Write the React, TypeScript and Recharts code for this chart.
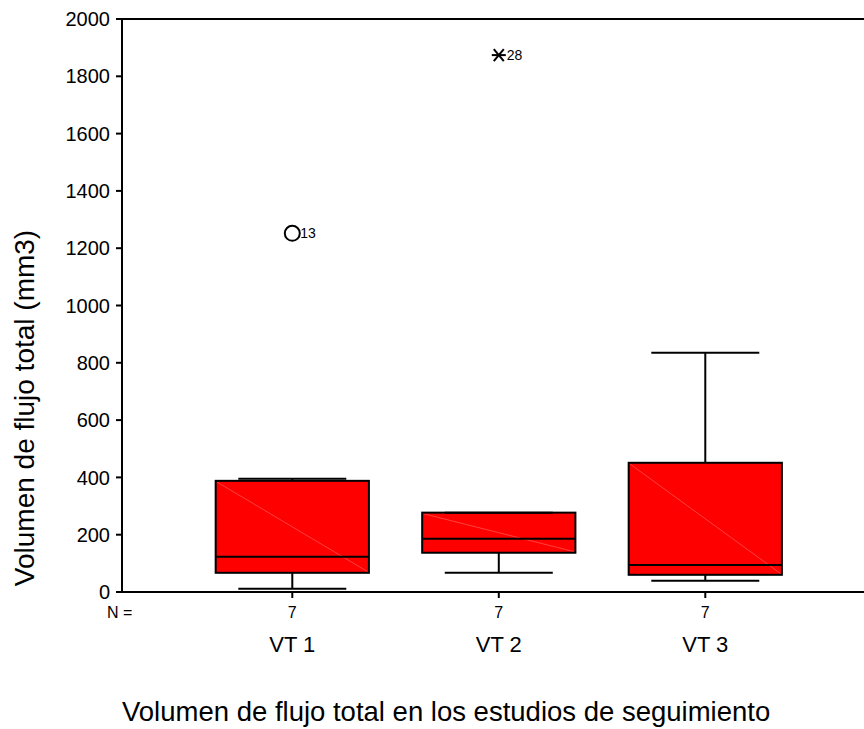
import React from 'react';
import { ComposedChart, XAxis, YAxis, ReferenceArea, ReferenceLine, Scatter, Label } from 'recharts';

// ---- data ----
const categories = ['VT 1', 'VT 2', 'VT 3'];
const nValues = [7, 7, 7];
const minValues = [11, 67, 39];
const q1Values = [67, 137, 60];
const medianValues = [123, 186, 94];
const q3Values = [388, 277, 451];
const maxValues = [395, 277, 835];
const outlierCategory = [1, 2];
const outlierValues = [1252, 1874];
const outlierIds = ['13', '28'];
const outlierKinds = ['circle', 'star'];
const yTicks = [0, 200, 400, 600, 800, 1000, 1200, 1400, 1600, 1800, 2000];
const xTitle = 'Volumen de flujo total en los estudios de seguimiento';
const yTitle = 'Volumen de flujo total (mm3)';

// ---- layout / style ----
const FONT = '"Liberation Sans", Arial, Helvetica, sans-serif';
const BOX_HALF = 0.371;
const CAP_HALF = 0.2615;
const X_DOMAIN: [number, number] = [0.1753, 3.7686];
const RED = '#ff0000';

const positions = categories.map((_, i) => i + 1);
const outlierData = outlierValues.map((v, k) => ({
  x: outlierCategory[k],
  y: v,
  id: outlierIds[k],
  kind: outlierKinds[k],
}));

const makeBoxShape = (i: number) => (props: any) => {
  const x = Math.min(props.x, props.x + props.width);
  const y = Math.min(props.y, props.y + props.height);
  const w = Math.abs(props.width);
  const h = Math.abs(props.height);
  const medY = y + ((q3Values[i] - medianValues[i]) / (q3Values[i] - q1Values[i])) * h;
  return (
    <g>
      <rect x={x} y={y} width={w} height={h} fill={RED} stroke="none" />
      <line x1={x + 1} y1={y + 1} x2={x + w - 1} y2={y + h - 1} stroke="#ff6a6a" strokeWidth={0.6} />
      <rect x={x} y={y} width={w} height={h} fill="none" stroke="#000" strokeWidth={2} />
      <line x1={x} x2={x + w} y1={medY} y2={medY} stroke="#000" strokeWidth={2} />
    </g>
  );
};

const OutlierShape = (props: any) => {
  const { cx, cy, payload } = props;
  if (cx == null || cy == null) return <g />;
  return (
    <g>
      {payload.kind === 'circle' ? (
        <circle cx={cx} cy={cy} r={7.5} fill="#fff" stroke="#000" strokeWidth={2} />
      ) : (
        <g stroke="#000" strokeWidth={2}>
          <line x1={cx - 7} y1={cy} x2={cx + 7} y2={cy} />
          <line x1={cx - 5} y1={cy - 6} x2={cx + 5} y2={cy + 6} />
          <line x1={cx - 5} y1={cy + 6} x2={cx + 5} y2={cy - 6} />
        </g>
      )}
      <text x={cx + 8} y={cy + 5} fontSize={14} fontFamily={FONT} fill="#000">
        {payload.id}
      </text>
    </g>
  );
};

const YTick = (props: any) => {
  const { x, y, payload } = props;
  return (
    <text x={x} y={y} dy="0.355em" textAnchor="end" fontSize={20} fontFamily={FONT} fill="#000">
      {payload.value}
    </text>
  );
};

const XTick = (props: any) => {
  const { x, y, payload } = props;
  const i = Math.round(payload.value) - 1;
  return (
    <g>
      <text x={x} y={y + 18} textAnchor="middle" fontSize={16} fontFamily={FONT} fill="#000">
        {nValues[i]}
      </text>
      <text x={x} y={y + 52} textAnchor="middle" fontSize={22} fontFamily={FONT} fill="#000">
        {categories[i]}
      </text>
    </g>
  );
};

const renderXLabel = (props: any) => {
  const vb = props.viewBox || {};
  return (
    <g>
      <text x={vb.x - 15} y={vb.y + 26} textAnchor="start" fontSize={16} fontFamily={FONT} fill="#000">
        N =
      </text>
      <text x={vb.x} y={vb.y + 129} textAnchor="start" fontSize={27.5} fontFamily={FONT} fill="#000">
        {xTitle}
      </text>
    </g>
  );
};

const renderYLabel = (props: any) => {
  const cx = 34;
  const cy = 408;
  return (
    <text
      x={cx}
      y={cy}
      transform={`rotate(-90, ${cx}, ${cy})`}
      textAnchor="middle"
      fontSize={28}
      fontFamily={FONT}
      fill="#000"
    >
      {yTitle}
    </text>
  );
};

export default function App() {
  return (
    <div style={{ position: 'absolute', left: 0, top: 0, background: '#fff' }}>
      <ComposedChart width={864} height={729} margin={{ top: 19, right: 0, bottom: 0, left: 0 }}>
        <XAxis
          type="number"
          dataKey="x"
          domain={X_DOMAIN}
          ticks={positions}
          interval={0}
          allowDataOverflow
          height={137}
          tickSize={6}
          tickMargin={2}
          tick={<XTick />}
          axisLine={{ stroke: '#000', strokeWidth: 2 }}
          tickLine={{ stroke: '#000', strokeWidth: 2 }}
        >
          <Label content={renderXLabel} />
        </XAxis>
        <YAxis
          type="number"
          dataKey="y"
          domain={[0, 2000]}
          ticks={yTicks}
          interval={0}
          allowDataOverflow
          width={122}
          tickSize={6}
          tickMargin={6}
          tick={<YTick />}
          axisLine={{ stroke: '#000', strokeWidth: 2 }}
          tickLine={{ stroke: '#000', strokeWidth: 2 }}
        >
          <Label content={renderYLabel} />
        </YAxis>
        <ReferenceLine y={2000} stroke="#000" strokeWidth={2} />
        {positions.map((p, i) => (
          <ReferenceLine
            key={`wu${i}`}
            segment={[{ x: p, y: q3Values[i] }, { x: p, y: maxValues[i] }]}
            stroke="#000"
            strokeWidth={2}
          />
        ))}
        {positions.map((p, i) => (
          <ReferenceLine
            key={`wl${i}`}
            segment={[{ x: p, y: minValues[i] }, { x: p, y: q1Values[i] }]}
            stroke="#000"
            strokeWidth={2}
          />
        ))}
        {positions.map((p, i) => (
          <ReferenceLine
            key={`cu${i}`}
            segment={[{ x: p - CAP_HALF, y: maxValues[i] }, { x: p + CAP_HALF, y: maxValues[i] }]}
            stroke="#000"
            strokeWidth={2}
          />
        ))}
        {positions.map((p, i) => (
          <ReferenceLine
            key={`cl${i}`}
            segment={[{ x: p - CAP_HALF, y: minValues[i] }, { x: p + CAP_HALF, y: minValues[i] }]}
            stroke="#000"
            strokeWidth={2}
          />
        ))}
        {positions.map((p, i) => (
          <ReferenceArea
            key={`box${i}`}
            x1={p - BOX_HALF}
            x2={p + BOX_HALF}
            y1={q1Values[i]}
            y2={q3Values[i]}
            shape={makeBoxShape(i)}
            fill={RED}
            fillOpacity={1}
          />
        ))}
        <Scatter data={outlierData} dataKey="y" shape={<OutlierShape />} isAnimationActive={false} />
      </ComposedChart>
    </div>
  );
}
